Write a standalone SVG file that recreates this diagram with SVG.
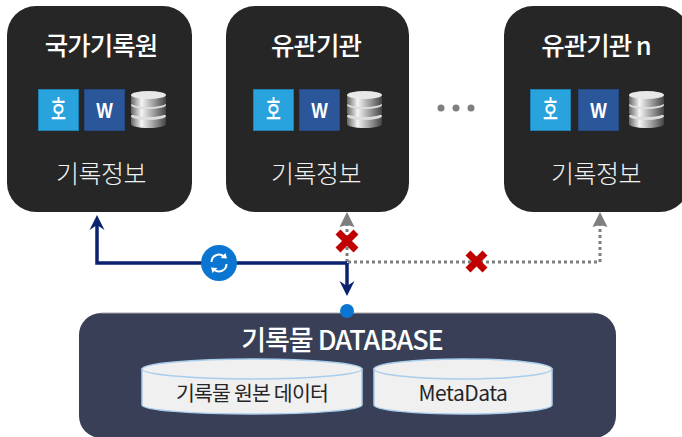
<svg xmlns="http://www.w3.org/2000/svg" width="682" height="437" viewBox="0 0 682 437">
<style>
text{font-family:"Noto Sans CJK KR","Noto Sans",sans-serif;text-anchor:middle}
.box{fill:#262626}
.t{fill:#fff;font-size:25.500px;font-weight:500;letter-spacing:-1px}
.s{fill:#f2f2f2;font-size:25px;font-weight:300;letter-spacing:-.5px}
.hn{fill:#29a3de;stroke:#1f7fae}
.wd{fill:#2b579a;stroke:#234a84}
.cyl{fill:#f0f0f0;stroke:#a9cdec;stroke-width:1.500}
.dot{fill:none;stroke:#7f7f7f;stroke-width:3;stroke-dasharray:3 3}
.nav{fill:none;stroke:#0a2270;stroke-width:3.500}
.x{fill:none;stroke:#c00000;stroke-width:7}
</style>
<defs>
<linearGradient id="m" x1="0" x2="1" y1="0" y2="0"><stop offset="0" stop-color="#666"/><stop offset=".3" stop-color="#f4f4f4"/><stop offset=".6" stop-color="#aaa"/><stop offset="1" stop-color="#444"/></linearGradient>
<g id="db">
<path d="M0 25v8c0 2 7 4 17.500 4s17.500-2 17.500-4v-8z" fill="url(#m)"/><ellipse cx="17.500" cy="25" rx="17.500" ry="4" fill="#ddd"/>
<path d="M0 14v8c0 2 7 4 17.500 4s17.500-2 17.500-4v-8z" fill="url(#m)"/><ellipse cx="17.500" cy="14" rx="17.500" ry="4" fill="#ddd"/>
<path d="M0 4v8c0 2 7 4 17.500 4s17.500-2 17.500-4v-8z" fill="url(#m)"/><ellipse cx="17.500" cy="4" rx="17.500" ry="4" fill="#e8e8e8"/>
</g>
<g id="hwp">
<rect class="hn" x="0.500" y="0.500" width="40" height="41"/>
<text transform="translate(20.500 31) scale(.6 1)" x="0" y="0" fill="#fff" font-size="27" font-weight="500">호</text>
</g>
<g id="word">
<rect class="wd" x="0.500" y="0.500" width="40" height="41"/>
<text transform="translate(20.500 29) scale(.8 1)" x="0" y="0" fill="#fff" font-size="22" font-weight="700" style="font-family:'Liberation Sans',sans-serif">W</text>
</g>
</defs>
<g id="connectors">
<path class="dot" d="M348 262H600V224"/>
<path class="dot" d="M347 262V224"/>
<path d="M600 212l-7.500 15 7.500-2 7.500 2z" fill="#7f7f7f"/>
<path d="M347 212l-7.500 15 7.500-2 7.500 2z" fill="#7f7f7f"/>
<path class="nav" d="M347 263H97V222"/>
<path class="nav" d="M347 263V290"/>
<path d="M97 215l-7.500 15 7.500-5 7.500 5z" fill="#0a2270"/>
<path d="M347 296l-7.500-15 7.500 5 7.500-5z" fill="#0a2270"/>
</g>
<g id="node-national">
<rect class="box" x="7" y="6" width="185" height="206" rx="29"/>
<text class="t" x="101" y="55">국가기록원</text>
<use href="#hwp" x="38" y="89"/><use href="#word" x="84" y="89"/><use href="#db" x="131" y="91"/>
<text class="s" x="101" y="183">기록정보</text>
</g>
<g id="node-agency">
<rect class="box" x="226" y="6" width="183" height="206" rx="29"/>
<text class="t" x="316" y="55">유관기관</text>
<use href="#hwp" x="253" y="89"/><use href="#word" x="299" y="89"/><use href="#db" x="347" y="91"/>
<text class="s" x="316" y="183">기록정보</text>
</g>
<g id="node-agency-n">
<rect class="box" x="504" y="6" width="185" height="206" rx="29"/>
<text class="t" x="596" y="55">유관기관 n</text>
<use href="#hwp" x="530" y="89"/><use href="#word" x="578" y="89"/><use href="#db" x="629" y="91"/>
<text class="s" x="596" y="183">기록정보</text>
</g>
<g id="ellipsis" fill="#7f7f7f"><circle cx="441" cy="108" r="3.500"/><circle cx="456" cy="108" r="3.500"/><circle cx="471" cy="108" r="3.500"/></g>
<g id="sync">
<circle cx="219" cy="263" r="18" fill="#0b76d1"/>
<path d="M211.500 262a7.500 7.500 0 0 1 12.500-5.500M226.500 264a7.500 7.500 0 0 1-12.500 5.500" fill="none" stroke="#fff" stroke-width="2"/>
<path d="M227 258.500l-6.500-.5 5-5zM211 267.500l6.500.5-5 5z" fill="#fff"/>
</g>
<g id="mark-1"><path class="x" d="M338 232l18 18M356 232l-18 18"/></g>
<g id="mark-2"><path class="x" d="M468 253l17 17M485 253l-17 17"/></g>
<g id="node-database">
<rect x="79" y="313" width="537" height="125" rx="22" fill="#393f56"/>
<path d="M101 313H594" fill="none" stroke="#a6a6a6" stroke-width="1"/>
<text x="342" y="350" fill="#fff" font-size="27" font-weight="500" letter-spacing="-1">기록물 DATABASE</text>
</g>
<circle id="port" cx="347" cy="311" r="7" fill="#0b76d1"/>
<g id="node-original">
<path class="cyl" d="M142 369v36c0 5 49 9 110 9s110-4 110-9v-36z"/>
<ellipse class="cyl" cx="252" cy="369" rx="110" ry="10"/>
<text x="252" y="401" fill="#262626" font-size="20.500" font-weight="400" letter-spacing="-.8">기록물 원본 데이터</text>
</g>
<g id="node-meta">
<path class="cyl" d="M374 369v36c0 5 40 9 89 9s89-4 89-9v-36z"/>
<ellipse class="cyl" cx="463" cy="369" rx="89" ry="10"/>
<text x="463" y="401" fill="#262626" font-size="21" font-weight="400" letter-spacing="-.5">MetaData</text>
</g>
</svg>
